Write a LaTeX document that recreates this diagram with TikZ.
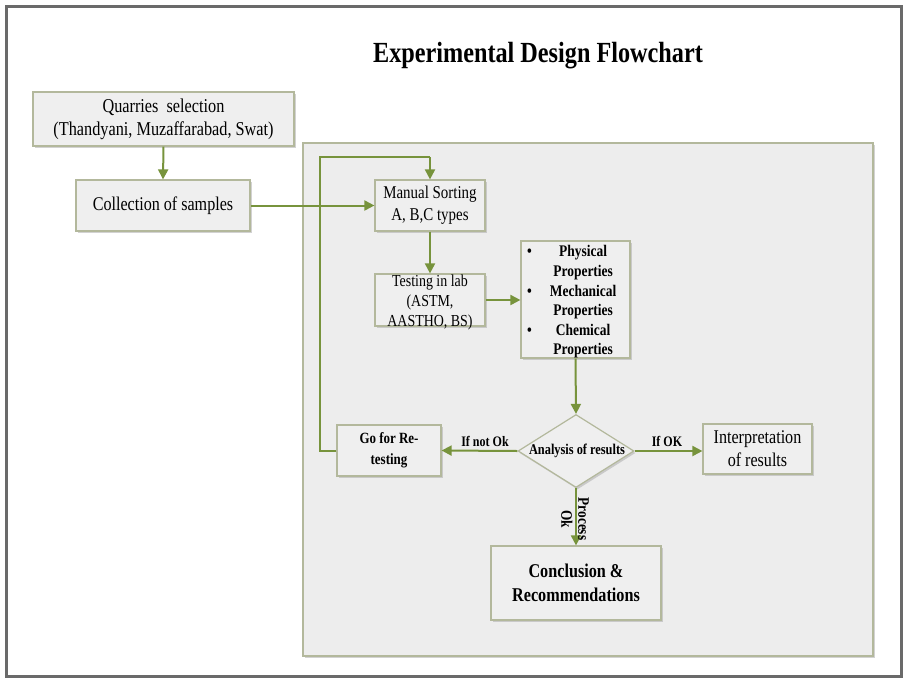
\documentclass[tikz,border=0pt]{standalone}
\usepackage{fontspec}
\setmainfont{Liberation Serif}
\newfontfamily\cond[FakeStretch=0.83]{Liberation Serif}
\usetikzlibrary{arrows.meta,shapes.geometric,shadows}
\definecolor{arrgreen}{HTML}{77933C}
\definecolor{boxedge}{HTML}{B3B89C}
\definecolor{boxfill}{HTML}{EFEFEF}
\definecolor{panelfill}{HTML}{EDEDED}
\definecolor{framegray}{HTML}{6A6A6A}
\tikzset{
  boxsh/.style={draw=boxedge, line width=1.2pt, fill=boxfill, inner sep=0pt, align=center,
    drop shadow={shadow xshift=1.5pt, shadow yshift=-2pt, fill=black!35, opacity=0.5}},
  arr/.style={draw=arrgreen, line width=2pt, -{Triangle[length=10pt,width=10pt]}},
  lnk/.style={draw=arrgreen, line width=2pt},
  lbl/.style={font=\cond\bfseries\fontsize{14.5}{16}\selectfont, inner sep=1pt}
}
\begin{document}
\begin{tikzpicture}[x=1pt,y=-1pt]
\useasboundingbox (0,0) rectangle (903,678);
% outer frame
\draw[framegray, line width=2.8pt] (6.5,6.5) rectangle (901.5,676.5);
% title
\node (title) at (538,56) {\cond\bfseries\fontsize{29.2}{32}\selectfont Experimental Design Flowchart};
% panel
\node[boxsh, minimum width=570pt, minimum height=513pt, fill=panelfill] (panel) at (588,399.5) {};
% boxes
\node[boxsh, minimum width=261pt, minimum height=54pt, font=\cond\fontsize{19.6}{23}\selectfont] (quarry) at (163.5,119) {Quarries\ \ selection\\(Thandyani, Muzaffarabad, Swat)};
\node[boxsh, minimum width=174pt, minimum height=51pt, font=\cond\fontsize{19.4}{22}\selectfont] (coll) at (163,205.5) {Collection of samples};
\node[boxsh, minimum width=110pt, minimum height=51pt, font=\cond\fontsize{18}{22}\selectfont] (manual) at (430,205.5) {Manual Sorting\\A, B,C types};
\node[boxsh, minimum width=110pt, minimum height=52pt] (test) at (430,300) {};
\node[font=\cond\fontsize{16.8}{20}\selectfont, align=center, inner sep=0pt] (testtxt) at (430,302.5) {Testing in lab\\(ASTM,\\AASTHO, BS)};
\node[boxsh, minimum width=109pt, minimum height=117pt] (props) at (575.5,299.5) {};
\node[anchor=west, inner sep=0pt, font=\cond\bfseries\fontsize{16.2}{19.6}\selectfont] (propstxt) at (527,302)
  {\begin{tabular}{@{}c@{\hspace{18pt}}c@{}}\textbullet & Physical\\ & Properties\\ \textbullet & Mechanical\\ & Properties\\ \textbullet & Chemical\\ & Properties\end{tabular}};
\node[diamond, draw=boxedge, line width=1.2pt, fill=boxfill, inner sep=0pt, minimum width=116pt, minimum height=73pt,
      drop shadow={shadow xshift=1.5pt, shadow yshift=-2pt, fill=black!35, opacity=0.5}] (diam) at (576,451) {};
\node[font=\cond\bfseries\fontsize{14.9}{16}\selectfont, inner sep=0pt] (diamtxt) at (577,451) {Analysis of results};
\node[boxsh, minimum width=104pt, minimum height=51pt, font=\cond\bfseries\fontsize{15.6}{21}\selectfont] (retest) at (389,450.5) {Go for Re-\\testing};
\node[boxsh, minimum width=109pt, minimum height=50pt, font=\cond\fontsize{19.4}{23}\selectfont] (interp) at (757.5,449) {Interpretation\\of results};
\node[boxsh, minimum width=170pt, minimum height=74pt, font=\cond\bfseries\fontsize{19.5}{24}\selectfont] (concl) at (576,583) {Conclusion \&\\Recommendations};
% connectors
\draw[arr] (quarry.south) -- (coll.north);
\draw[arr] (coll.east) -- (manual.west);
\draw[arr] (manual.south) -- (test.north);
\draw[arr] (test.east) -- (props.west |- test.east);
\draw[arr] (props.south) -- (diam.north);
\draw[arr] (diam.west) -- (retest.east);
\draw[arr] (diam.east) -- (interp.west |- diam.east);
\draw[arr] (diam.south) -- (concl.north);
\coordinate (l1) at (320,450.5);
\coordinate (l2) at (320,157);
\coordinate (l3) at (430,157);
\draw[lnk] (retest.west) -- (l1) -- (l2) -- (l3);
\draw[arr] (l3) -- (manual.north);
% labels
\node[lbl] (lnot) at (485,441) {If not Ok};
\node[lbl] (lok) at (667,441) {If OK};
\node[lbl, rotate=-90, align=center, font=\cond\bfseries\fontsize{16}{17}\selectfont] (lproc) at (575,519) {Process\\Ok};
\end{tikzpicture}
\end{document}
